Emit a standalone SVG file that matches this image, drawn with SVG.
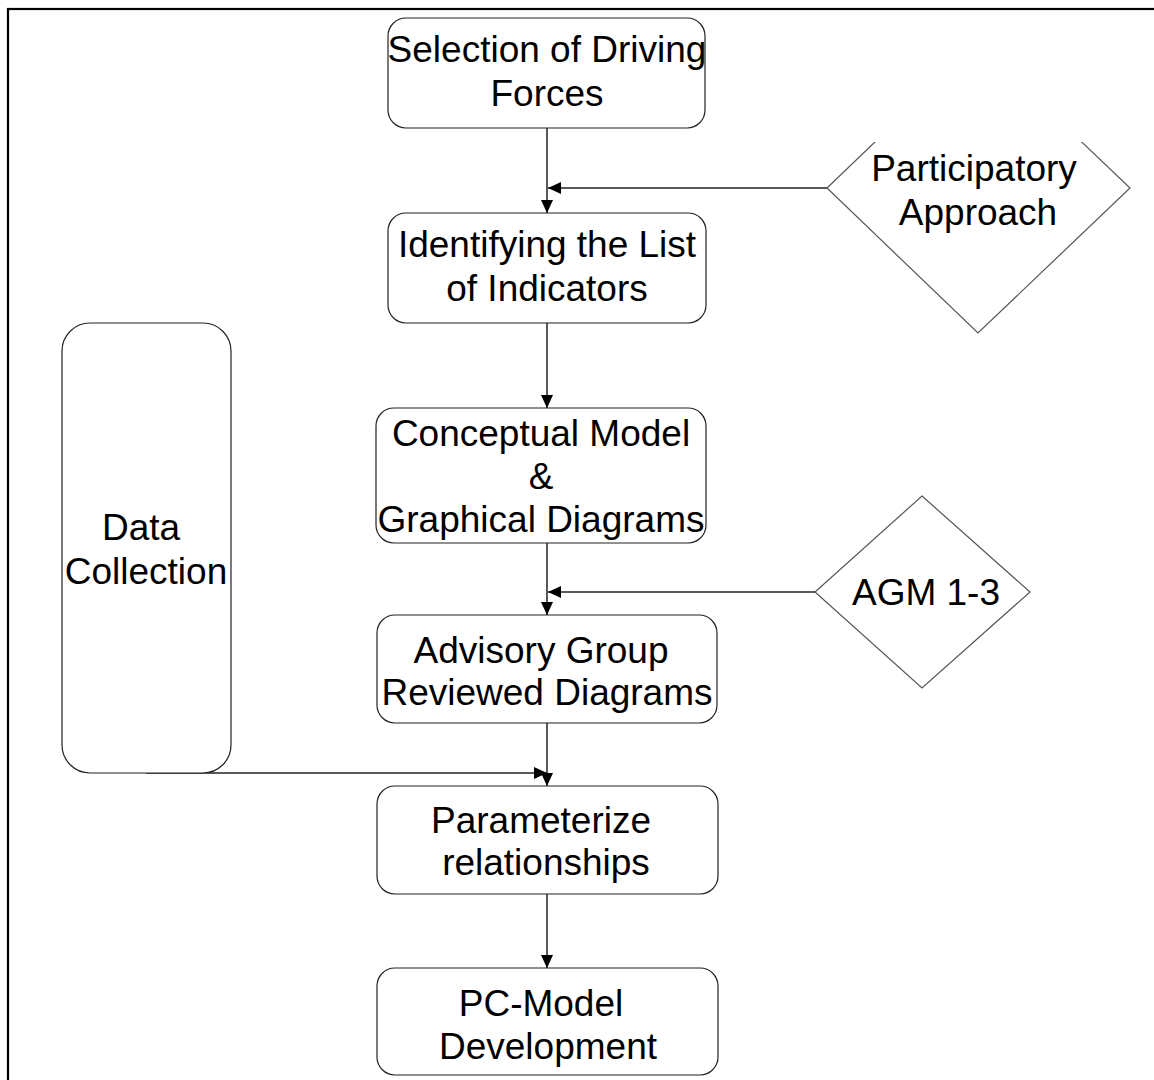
<svg xmlns="http://www.w3.org/2000/svg" width="1154" height="1080" viewBox="0 0 1154 1080">
  <style>
    .box { fill: #ffffff; stroke: #222222; stroke-width: 1.2; }
    .dia { fill: #ffffff; stroke: #555555; stroke-width: 1.2; }
    .lbl { font-family: "Liberation Sans", Arial, sans-serif; font-size: 37px; fill: #000000; text-anchor: middle; }
    .edge { fill: none; stroke: #222222; stroke-width: 1.5; }
  </style>
  <defs>
    <marker id="head" markerUnits="userSpaceOnUse" markerWidth="13" markerHeight="12" refX="13" refY="6" orient="auto">
      <path d="M0,0 L13,6 L0,12 z" fill="#000000"/>
    </marker>
  </defs>

  <rect width="1154" height="1080" fill="#ffffff"/>
  <!-- outer frame, continues past the right and bottom edges -->
  <rect x="8" y="9" width="1300" height="1300" fill="none" stroke="#000000" stroke-width="2.2"/>

  <g id="connectors">
    <path class="edge" d="M547,128 V213" marker-end="url(#head)"/>
    <path class="edge" d="M827,188 H548" marker-end="url(#head)"/>
    <path class="edge" d="M547,323 V408" marker-end="url(#head)"/>
    <path class="edge" d="M547,543 V615" marker-end="url(#head)"/>
    <path class="edge" d="M815,592 H548" marker-end="url(#head)"/>
    <path class="edge" d="M547,723 V786" marker-end="url(#head)"/>
    <path class="edge" d="M146,773 H547" marker-end="url(#head)"/>
    <path class="edge" d="M547,894 V968" marker-end="url(#head)"/>
  </g>

  <g id="selection-driving-forces">
    <rect class="box" x="388" y="18" width="317" height="110" rx="18" ry="18"/>
    <text class="lbl" x="547" y="62">Selection of Driving</text>
    <text class="lbl" x="547" y="106">Forces</text>
  </g>

  <g id="participatory-approach">
    <polygon class="dia" points="978,43 1130,188 978,333 827,188"/>
    <!-- text block with white backing, hides the upper tip of the diamond -->
    <rect x="866" y="30" width="222" height="112" fill="#ffffff"/>
    <text class="lbl" x="974" y="181">Participatory</text>
    <text class="lbl" x="978" y="225">Approach</text>
  </g>

  <g id="identifying-indicators">
    <rect class="box" x="388" y="213" width="318" height="110" rx="18" ry="18"/>
    <text class="lbl" x="547" y="257">Identifying the List</text>
    <text class="lbl" x="547" y="301">of Indicators</text>
  </g>

  <g id="data-collection">
    <rect class="box" x="62" y="323" width="169" height="450" rx="28" ry="28"/>
    <text class="lbl" x="141" y="540">Data</text>
    <text class="lbl" x="146" y="584">Collection</text>
  </g>

  <g id="conceptual-model">
    <rect class="box" x="376" y="408" width="330" height="135" rx="18" ry="18"/>
    <text class="lbl" x="541" y="446">Conceptual Model</text>
    <text class="lbl" x="541" y="489">&amp;</text>
    <text class="lbl" x="541" y="532">Graphical Diagrams</text>
  </g>

  <g id="agm">
    <polygon class="dia" points="922,496 1030,592 922,688 815,592"/>
    <text class="lbl" x="926" y="605">AGM 1-3</text>
  </g>

  <g id="advisory-group">
    <rect class="box" x="377" y="615" width="340" height="108" rx="18" ry="18"/>
    <text class="lbl" x="541" y="663">Advisory Group</text>
    <text class="lbl" x="547" y="705">Reviewed Diagrams</text>
  </g>

  <g id="parameterize">
    <rect class="box" x="377" y="786" width="341" height="108" rx="18" ry="18"/>
    <text class="lbl" x="541" y="833">Parameterize</text>
    <text class="lbl" x="546" y="875">relationships</text>
  </g>

  <g id="pc-model">
    <rect class="box" x="377" y="968" width="341" height="107" rx="18" ry="18"/>
    <text class="lbl" x="541" y="1016">PC-Model</text>
    <text class="lbl" x="548" y="1059">Development</text>
  </g>
</svg>
